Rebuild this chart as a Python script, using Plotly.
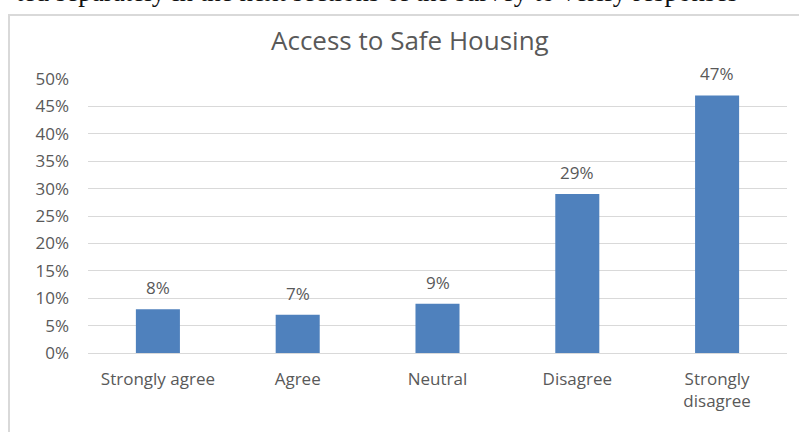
import plotly.graph_objects as go

# Survey responses: access to safe housing
categories = ["Strongly agree", "Agree", "Neutral", "Disagree", "Strongly disagree"]
tick_text = ["Strongly agree", "Agree", "Neutral", "Disagree", "Strongly<br>disagree"]
shares = [0.08, 0.07, 0.09, 0.29, 0.47]
y_ticks = [0, 0.05, 0.10, 0.15, 0.20, 0.25, 0.30, 0.35, 0.40, 0.45, 0.50]

W, H = 799, 432
GREY = "#595959"
FONT = "Open Sans"

fig = go.Figure(
    go.Bar(
        x=categories,
        y=shares,
        width=0.315,
        marker=dict(color="#4f81bd", line=dict(width=0)),
        hoverinfo="skip",
    )
)

# value labels above each bar
for c, v in zip(categories, shares):
    fig.add_annotation(
        x=c, y=v, text=f"{round(v * 100)}%", showarrow=False,
        yanchor="bottom", yshift=8,
        font=dict(family=FONT, size=17, color=GREY),
    )

# chart title
fig.add_annotation(
    xref="paper", yref="paper", x=410 / W, y=(H - 40) / H,
    text="Access to Safe Housing", showarrow=False,
    xanchor="center", yanchor="middle",
    font=dict(family=FONT, size=26, color=GREY),
)

# body text running above the chart frame (only its lower edge is on the page)
fig.add_annotation(
    xref="paper", yref="paper", x=14 / W, y=(H - 9) / H,
    text="ted separately in the next sections of the survey to verify responses",
    showarrow=False, xanchor="left", yanchor="bottom",
    font=dict(family="Liberation Serif", size=27, color="#111111"),
)

# chart frame
fig.add_shape(
    type="rect", xref="paper", yref="paper",
    x0=9 / W, x1=1.05, y0=-0.1, y1=(H - 15) / H,
    line=dict(color="#d9d9d9", width=2), fillcolor="rgba(0,0,0,0)",
    layer="below",
)

fig.update_layout(
    width=W, height=H,
    margin=dict(l=0, r=0, t=0, b=0, autoexpand=False),
    paper_bgcolor="white", plot_bgcolor="white",
    showlegend=False,
    xaxis=dict(
        domain=[88 / W, 787 / W],
        range=[-0.5, 4.5],
        automargin=False,
        tickmode="array", tickvals=categories, ticktext=tick_text,
        showgrid=False, showline=False, ticks="",
        ticklabelstandoff=14,
        tickfont=dict(family=FONT, size=17, color=GREY),
    ),
    yaxis=dict(
        domain=[(H - 353) / H, (H - 79) / H],
        range=[0, 0.5],
        automargin=False,
        tickmode="array", tickvals=y_ticks,
        ticktext=[f"{round(t * 100)}%" for t in y_ticks],
        showgrid=True, gridcolor="#d9d9d9", gridwidth=1,
        zeroline=True, zerolinecolor="#d9d9d9", zerolinewidth=1,
        showline=False, ticks="",
        ticklabelstandoff=18,
        tickfont=dict(family=FONT, size=17, color=GREY),
    ),
)

fig.write_html("out.html")
